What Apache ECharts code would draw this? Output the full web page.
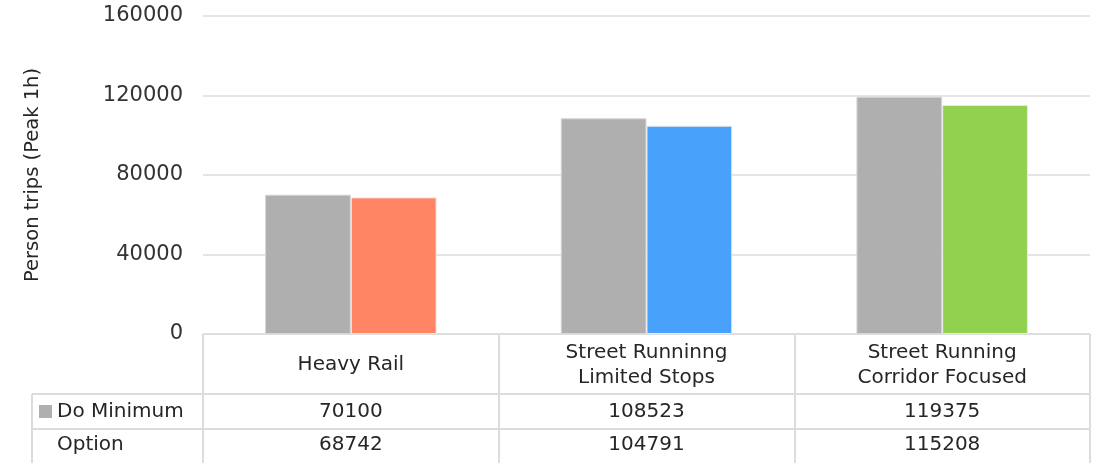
<!DOCTYPE html>
<html>
<head>
<meta charset="utf-8">
<script src="https://cdn.jsdelivr.net/npm/echarts@6/dist/echarts.min.js"></script>
<style>
  html, body { margin: 0; padding: 0; background: #fff; }
  #chart { width: 1096px; height: 463px; }
</style>
</head>
<body>
<div id="chart"></div>
<script>
// Peak-hour person trips by scheme
const categories = ['Heavy Rail', 'Street Runninng\nLimited Stops', 'Street Running\nCorridor Focused'];
const seriesNames = ['Do Minimum', 'Option'];
const doMinimum = [70100, 108523, 119375];
const option = [68742, 104791, 115208];
const yTicks = [0, 40000, 80000, 120000, 160000];

const baseColor = '#afafaf';
const optionColors = ['#ff8564', '#48a1fb', '#92d050'];

const FONT = 'DejaVu Sans';
const TEXT = '#262626';
const LINE = '#dcdcdc';
const FS = 20;

// layout of the plot and the data table under it
const W = 1096, H = 463;
const gridLeft = 203, gridRight = 6, gridTop = 16, gridBottom = 129;
const rowTop1 = 394, rowTop2 = 429;
const tableLeft = 32;

const chart = echarts.init(document.getElementById('chart'), null, { renderer: 'canvas' });

chart.setOption({
  animation: false,
  textStyle: { fontFamily: FONT },
  grid: { left: gridLeft, right: gridRight, top: gridTop, bottom: gridBottom, containLabel: false },
  xAxis: {
    type: 'category',
    data: categories,
    axisLine: { show: true, lineStyle: { color: LINE, width: 1.5 } },
    axisTick: { show: true, length: gridBottom, lineStyle: { color: LINE, width: 2 } },
    axisLabel: {
      show: true, interval: 0, margin: 31, verticalAlign: 'middle',
      fontFamily: FONT, fontSize: FS, color: TEXT, lineHeight: 25, align: 'center'
    }
  },
  yAxis: {
    type: 'value',
    min: yTicks[0],
    max: yTicks[yTicks.length - 1],
    interval: yTicks[1] - yTicks[0],
    name: 'Person trips (Peak 1h)',
    nameLocation: 'middle',
    nameGap: 160,
    nameRotate: 90,
    nameTextStyle: { fontFamily: FONT, fontSize: 19.5, color: TEXT },
    axisLine: { show: false },
    axisTick: { show: false },
    axisLabel: {
      margin: 20, fontFamily: FONT, fontSize: 21, color: '#333',
      formatter: v => String(v)
    },
    splitLine: { lineStyle: { color: LINE, width: 1.5 } }
  },
  series: [
    {
      name: seriesNames[0],
      type: 'bar',
      data: doMinimum,
      barGap: '0%',
      barCategoryGap: '42%',
      itemStyle: { color: baseColor, borderColor: '#d6d6d6', borderWidth: 1 }
    },
    {
      name: seriesNames[1],
      type: 'bar',
      data: option.map((v, i) => ({
        value: v,
        itemStyle: { color: optionColors[i], borderColor: '#e8e8e8', borderWidth: 1 }
      })),
      barGap: '0%',
      barCategoryGap: '42%'
    }
  ]
});

// Data table: row rules, legend key, series names and values
const tableRight = W - gridRight;
const graphics = [];
[rowTop1, rowTop2].forEach(y => {
  graphics.push({
    type: 'line', silent: true,
    shape: { x1: tableLeft, y1: y, x2: tableRight, y2: y },
    style: { stroke: LINE, lineWidth: 2 }
  });
});
graphics.push({
  type: 'line', silent: true,
  shape: { x1: tableLeft, y1: rowTop1, x2: tableLeft, y2: H },
  style: { stroke: LINE, lineWidth: 2 }
});
graphics.push({
  type: 'rect', silent: true,
  shape: { x: 39, y: 405, width: 13, height: 13 },
  style: { fill: baseColor }
});
const rowCenters = [(rowTop1 + rowTop2) / 2, (rowTop2 + H) / 2 - 1.5];
seriesNames.forEach((name, r) => {
  graphics.push({
    type: 'text', silent: true,
    style: {
      x: 57, y: rowCenters[r], text: name,
      font: FS + 'px "' + FONT + '"', fill: TEXT,
      textAlign: 'left', textVerticalAlign: 'middle'
    }
  });
});
[doMinimum, option].forEach((vals, r) => {
  vals.forEach((v, i) => {
    const cx = chart.convertToPixel({ xAxisIndex: 0 }, i);
    graphics.push({
      type: 'text', silent: true,
      style: {
        x: cx, y: rowCenters[r], text: String(v),
        font: FS + 'px "' + FONT + '"', fill: TEXT,
        textAlign: 'center', textVerticalAlign: 'middle'
      }
    });
  });
});
chart.setOption({ graphic: graphics });
</script>
</body>
</html>
